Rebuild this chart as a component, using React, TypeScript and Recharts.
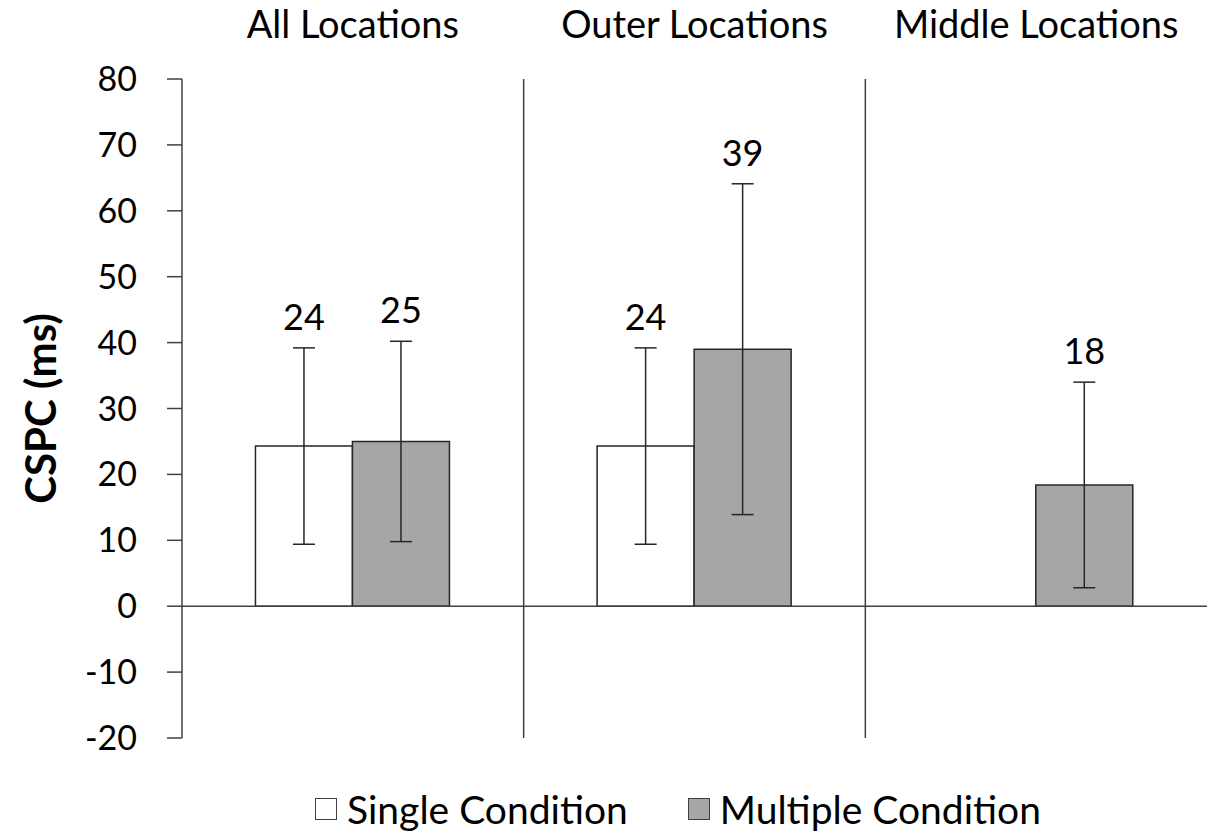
import React from "react";
import {
  BarChart,
  Bar,
  XAxis,
  YAxis,
  CartesianGrid,
  ReferenceLine,
  ErrorBar,
  LabelList,
  Legend,
  Label,
} from "recharts";

const categories = ["All Locations", "Outer Locations", "Middle Locations"];
const singleValues: (number | null)[] = [24.3, 24.3, null];
const singleErrors: (number | null)[] = [14.9, 14.9, null];
const multipleValues: (number | null)[] = [25.0, 39.0, 18.4];
const multipleErrors: (number | null)[] = [15.2, 25.1, 15.6];
const yTicks = [-20, -10, 0, 10, 20, 30, 40, 50, 60, 70, 80];
const seriesNames = ["Single Condition", "Multiple Condition"];
const seriesFills = ["#ffffff", "#a6a6a6"];

const data = categories.map((name, i) => ({
  name,
  single: singleValues[i],
  singleErr: singleErrors[i],
  multiple: multipleValues[i],
  multipleErr: multipleErrors[i],
}));

const FONT = "Lato, 'Open Sans', sans-serif";
const LINE = "#404040";
const BAR_STROKE = "#262626";

const makeLabel = (errs: (number | null)[]) => (props: any) => {
  const { x, y, width, height, value, index } = props;
  if (value == null || errs[index] == null) return null;
  const pxPerUnit = Math.abs(height) / Math.abs(value);
  const errTop = y - (errs[index] as number) * pxPerUnit;
  return (
    <text
      x={x + width / 2}
      y={errTop - 32}
      textAnchor="middle"
      dominantBaseline="central"
      fontFamily={FONT}
      fontSize={36}
      fill="#000"
    >
      {Math.round(value)}
    </text>
  );
};

const renderLegend = () => {
  return (
    <div
      style={{
        height: 93,
        boxSizing: "border-box",
        paddingTop: 48,
        paddingLeft: 315,
        display: "flex",
        flexDirection: "row",
        alignItems: "center",
        fontFamily: FONT,
        fontSize: 39,
        color: "#000",
      }}
    >
      {seriesNames.map((name, i) => (
        <div
          key={name}
          style={{
            display: "flex",
            alignItems: "center",
            height: 44,
            marginRight: i === 0 ? 60 : 0,
          }}
        >
          <div
            style={{
              width: 20,
              height: 20,
              border: `1.5px solid ${LINE}`,
              background: seriesFills[i],
              marginRight: 10,
            }}
          />
          <span style={{ lineHeight: "44px" }}>{name}</span>
        </div>
      ))}
    </div>
  );
};

const YTitle = (props: any) => {
  const { viewBox } = props;
  const cx = viewBox.x + 40;
  const cy = viewBox.y + viewBox.height / 2;
  return (
    <text
      x={cx}
      y={cy}
      transform={`rotate(-90, ${cx}, ${cy})`}
      textAnchor="middle"
      dominantBaseline="central"
      fontFamily={FONT}
      fontWeight="bold"
      fontSize={42}
      fill="#000"
    >
      CSPC (ms)
    </text>
  );
};

export default function App() {
  return (
    <div
      style={{
        position: "absolute",
        left: 0,
        top: 0,
        width: 1207,
        height: 831,
        background: "#fff",
      }}
    >
      <BarChart
        width={1207}
        height={831}
        data={data}
        margin={{ top: 0, right: 0, bottom: 0, left: 0 }}
        barGap={0}
        barCategoryGap="21.5%"
      >
        <CartesianGrid
          horizontal={false}
          vertical={true}
          stroke={LINE}
          strokeWidth={1.5}
          verticalCoordinatesGenerator={({ offset }: any) => {
            const n = categories.length;
            const out: number[] = [];
            for (let i = 1; i < n; i++) out.push(offset.left + (offset.width * i) / n);
            return out;
          }}
        />
        <XAxis
          dataKey="name"
          orientation="top"
          height={79}
          axisLine={false}
          tickLine={false}
          tickSize={0}
          tickMargin={41}
          interval={0}
          tick={{ fontFamily: FONT, fontSize: 38, fill: "#000" }}
        />
        <YAxis
          width={182}
          domain={[-20, 80]}
          ticks={yTicks}
          interval={0}
          axisLine={{ stroke: LINE, strokeWidth: 1.5 }}
          tickLine={{ stroke: LINE, strokeWidth: 1.5 }}
          tickSize={15}
          tickMargin={30}
          tick={{ fontFamily: FONT, fontSize: 34, fill: "#000" }}
        >
          <Label content={<YTitle />} position="center" />
        </YAxis>
        <ReferenceLine y={0} stroke={LINE} strokeWidth={1.5} />
        <Legend verticalAlign="bottom" content={renderLegend} />
        <Bar
          dataKey="single"
          name={seriesNames[0]}
          fill={seriesFills[0]}
          stroke={BAR_STROKE}
          strokeWidth={1.5}
          isAnimationActive={false}
        >
          <ErrorBar dataKey="singleErr" width={11} stroke={BAR_STROKE} strokeWidth={1.5} direction="y" />
          <LabelList dataKey="single" content={makeLabel(singleErrors)} />
        </Bar>
        <Bar
          dataKey="multiple"
          name={seriesNames[1]}
          fill={seriesFills[1]}
          stroke={BAR_STROKE}
          strokeWidth={1.5}
          isAnimationActive={false}
        >
          <ErrorBar dataKey="multipleErr" width={11} stroke={BAR_STROKE} strokeWidth={1.5} direction="y" />
          <LabelList dataKey="multiple" content={makeLabel(multipleErrors)} />
        </Bar>
      </BarChart>
    </div>
  );
}
